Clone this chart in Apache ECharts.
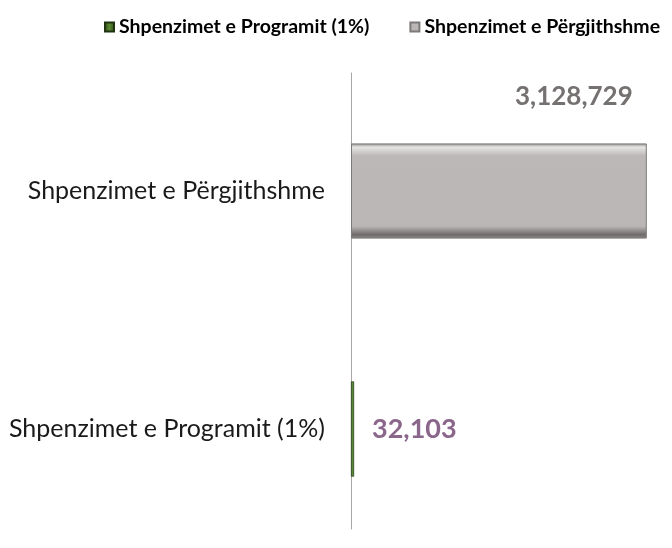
<!DOCTYPE html>
<html>
<head>
<meta charset="utf-8">
<script src="https://cdn.jsdelivr.net/npm/echarts@6/dist/echarts.min.js"></script>
<style>
  html, body { margin: 0; padding: 0; background: #fff; }
  #chart { width: 672px; height: 548px; }
</style>
</head>
<body>
<div id="chart"></div>
<script>
// categories from bottom to top
const categories = ["Shpenzimet e Programit (1%)", "Shpenzimet e Përgjithshme"];
const seriesNames = ["Shpenzimet e Programit (1%)", "Shpenzimet e Përgjithshme"];
const programValues = [32103, "-"];
const generalValues = ["-", 3128729];

const chart = echarts.init(document.getElementById("chart"));
const fmt = (v) => Number(v).toLocaleString("en-US");
const FONT = "Lato, 'Open Sans', sans-serif";

chart.setOption({
  animation: false,
  textStyle: { fontFamily: FONT },
  legend: {
    data: seriesNames,
    left: 99,
    width: 573,
    top: 12,
    icon: "rect",
    itemWidth: 9,
    itemHeight: 9,
    itemGap: 40,
    textStyle: { fontFamily: FONT, fontWeight: "bold", fontSize: 19.5, color: "#000" },
  },
  grid: [
    // grid holding the bars
    { left: 351, right: 9, top: 72, height: 481 },
    // grid only used to draw the vertical axis line
    { left: 351, right: 9, top: 73, bottom: 19 },
  ],
  xAxis: [
    { gridIndex: 0, type: "value", min: 0, max: 3300000, show: false },
    { gridIndex: 1, type: "value", min: 0, max: 1, show: false },
  ],
  yAxis: [
    {
      gridIndex: 0,
      type: "category",
      data: categories,
      axisLine: { show: false },
      axisTick: { show: false },
      axisLabel: { margin: 26, fontSize: 25, color: "#1a1a1a", fontFamily: FONT },
    },
    {
      gridIndex: 1,
      type: "category",
      data: categories,
      axisLine: { show: true, lineStyle: { color: "#a6a6a6", width: 1 } },
      axisTick: { show: false },
      axisLabel: { show: false },
    },
  ],
  series: [
    {
      name: seriesNames[0],
      type: "bar",
      stack: "total",
      barWidth: "40%",
      data: programValues,
      itemStyle: {
        color: new echarts.graphic.LinearGradient(0, 0, 1, 0, [
          { offset: 0, color: "#2e4a17" },
          { offset: 0.5, color: "#5a8a33" },
          { offset: 1, color: "#2e4a17" },
        ]),
        borderColor: "#1f3310",
        borderWidth: 0.5,
      },
      label: {
        show: true,
        position: "right",
        distance: 18,
        formatter: (p) => fmt(p.value),
        fontFamily: FONT,
        fontWeight: "bold",
        fontSize: 27,
        color: "#8b668b",
      },
    },
    {
      name: seriesNames[1],
      type: "bar",
      stack: "total",
      barWidth: "40%",
      data: generalValues,
      itemStyle: {
        color: new echarts.graphic.LinearGradient(0, 0, 0, 1, [
          { offset: 0, color: "#8f8b8a" },
          { offset: 0.04, color: "#e6e4e4" },
          { offset: 0.13, color: "#bcb8b7" },
          { offset: 0.87, color: "#bab6b5" },
          { offset: 0.96, color: "#6e6b6a" },
          { offset: 1, color: "#8f8b8a" },
        ]),
        borderColor: "#7c7978",
        borderWidth: 1,
      },
      label: {
        show: true,
        position: [164, -47],
        verticalAlign: "middle",
        align: "left",
        formatter: (p) => fmt(p.value),
        fontFamily: FONT,
        fontWeight: "bold",
        fontSize: 26,
        color: "#767171",
      },
    },
  ],
});
</script>
</body>
</html>
